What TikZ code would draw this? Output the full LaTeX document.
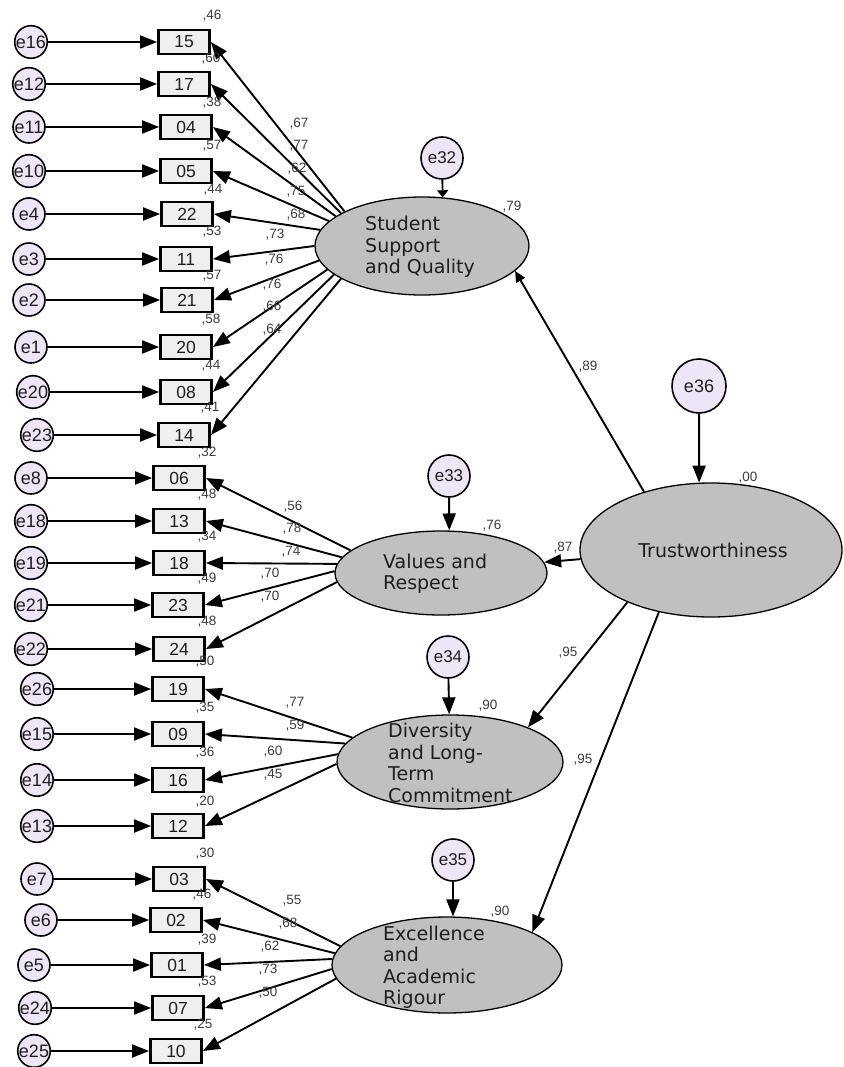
\documentclass[tikz,border=0pt]{standalone}
\usepackage{fontspec}
\setmainfont{Liberation Sans}
\newfontfamily\latfont{DejaVu Sans}
\usetikzlibrary{shapes.geometric,arrows.meta}

\definecolor{errfill}{RGB}{238,230,246}
\definecolor{boxfill}{RGB}{239,239,239}
\definecolor{latfill}{RGB}{192,192,192}
\definecolor{numgray}{RGB}{60,60,60}
\definecolor{inkdark}{RGB}{30,30,30}

\tikzset{
  errc/.style={circle, draw=black, line width=1.6pt, fill=errfill, minimum size=32pt,
               inner sep=0pt, text=inkdark, font=\fontsize{18}{18}\selectfont},
  obs/.style={rectangle, draw=black, line width=2.8pt, fill=boxfill, minimum width=51pt,
              minimum height=24pt, inner sep=0pt, text=inkdark, font=\fontsize{17.5}{17.5}\selectfont},
  lat/.style={ellipse, draw=black, line width=1.3pt, fill=latfill, inner sep=0pt},
  lattext/.style={align=left, anchor=west, inner sep=0pt, text=inkdark,
                  font=\latfont\fontsize{19}{21.5}\selectfont},
  arr/.style={-{Triangle[length=17pt,width=13pt]}, line width=1.9pt},
  num/.style={inner sep=0pt, text=numgray, font=\fontsize{13.5}{13.5}\selectfont}
}

\begin{document}
\begin{tikzpicture}[x=1pt,y=-1pt]
\useasboundingbox (0,0) rectangle (843,1067);

% variance label of the first factor, tucked under its rim
\node[num] at (512,207) {,79};

% latent variables
\node[lat, minimum width=214pt, minimum height=98pt] (ssq) at (422,246) {};
\node[lat, minimum width=212pt, minimum height=84pt] (vr) at (441,573) {};
\node[lat, minimum width=226pt, minimum height=94pt] (div) at (450,762) {};
\node[lat, minimum width=230pt, minimum height=96pt] (exc) at (447,965) {};
\node[lat, minimum width=262pt, minimum height=134pt] (trust) at (711,550) {};

\node[lattext] (ssqt) at (365,247) {Student\\Support\\and Quality};
\node[lattext] (vrt) at (383,574) {Values and\\Respect};
\node[lattext] (divt) at (388,763) {Diversity\\and Long-\\Term\\Commitment};
\node[lattext] (exct) at (383,967) {Excellence\\and\\Academic\\Rigour};
\node[align=center, inner sep=0pt, text=inkdark, font=\latfont\fontsize{19}{21}\selectfont] (trustt) at (713,550) {Trustworthiness};

% residuals of the latent variables
\node[errc, minimum size=42pt, font=\fontsize{17}{17}\selectfont] (e32) at (442,158) {e32};
\node[errc, minimum size=42pt, font=\fontsize{17}{17}\selectfont] (e33) at (449,476) {e33};
\node[errc, minimum size=42pt, font=\fontsize{17}{17}\selectfont] (e34) at (448,657) {e34};
\node[errc, minimum size=42pt, font=\fontsize{17}{17}\selectfont] (e35) at (453,860) {e35};
\node[errc, minimum size=54pt] (e36) at (699,386) {e36};

\draw[-{Triangle[length=7pt,width=11pt]}, line width=1.9pt] (e32) -- (ssq.67);
\draw[arr] (e33) -- (vr.79);
\draw[arr] (e34) -- (div.91);
\draw[arr] (e35) -- (exc.83);
\draw[arr] (e36) -- (trust.100);

% second-order paths
\draw[-{Triangle[length=11pt,width=10pt]}, line width=1.9pt] (trust.139) -- (ssq.-15);
\draw[arr] (trust.184) -- (vr.6);
\draw[arr] (trust.212) -- (div.24);
\draw[arr] (trust.230) -- (exc.21);

% observed items with their error terms: item / x / y / error / error x / path angle / factor
\foreach \b/\bx/\by/\e/\ex/\ang/\lv in {
   15/184/42/e16/31/156/ssq, 17/184/84/e12/29/158/ssq, 04/186/127/e11/29/161/ssq,
   05/186/171/e10/29/165/ssq, 22/187/214/e4/29/171/ssq, 11/186/259/e3/29/180/ssq,
   21/187/300/e2/29/188/ssq, 20/186/347/e1/31/194/ssq, 08/186/392/e20/33/198/ssq,
   14/184/435/e23/37/202/ssq,
   06/179/478/e8/31/166/vr, 13/179/521/e18/31/171/vr, 18/179/563/e19/31/175/vr,
   23/178/605/e21/31/179/vr, 24/179/649/e22/31/185/vr,
   19/178/689/e26/37/166/div, 09/178/734/e15/37/170/div, 16/178/780/e14/37/176/div,
   12/178/826/e13/37/181/div,
   03/179/879/e7/37/170/exc, 02/176/920/e6/41/174/exc, 01/177/965/e5/34/177/exc,
   07/178/1008/e24/35/182/exc, 10/176/1051/e25/34/187/exc} {
  \node[obs] (b\b) at (\bx,\by) {\b};
  \node[errc] (\e) at (\ex,\by) {\e};
  \draw[arr] (\e) -- (b\b.west);
  \draw[arr] (\lv.\ang) -- (b\b.east);
}

% squared multiple correlations of the items
\foreach \t/\x/\y in {
   46/212/16, 60/211/59, 38/212/103, 57/212/146, 44/213/190, 53/212/232,
   57/212/276, 58/211/320, 44/211/366, 41/210/408,
   32/207/453, 48/207/495, 34/207/537, 49/207/579, 48/207/622,
   50/205/662, 35/205/708, 36/205/753, 20/205/802,
   30/205/854, 46/202/895, 39/207/940, 53/207/982, 25/203/1025} {
  \node[num] at (\x,\y) {,\t};
}

% standardized loadings
\foreach \t/\x/\y in {
   67/299/124, 77/299/146, 62/297/169, 75/296/192, 68/296/215,
   73/275/235, 76/274/260, 76/272/285, 66/272/307, 64/272/330,
   56/293/507, 78/292/529, 74/291/552, 70/270/574, 70/270/597,
   77/295/703, 59/295/726, 60/273/752, 45/273/775,
   55/292/901, 68/288/924, 62/270/947, 73/268/970, 50/268/993} {
  \node[num] at (\x,\y) {,\t};
}

% estimates at the factor level
\node[num] at (492,526) {,76};
\node[num] at (563,548) {,87};
\node[num] at (488,706) {,90};
\node[num] at (500,912) {,90};
\node[num] at (748,478) {,00};
\node[num] at (588,367) {,89};
\node[num] at (568,653) {,95};
\node[num] at (583,760) {,95};
\end{tikzpicture}
\end{document}
